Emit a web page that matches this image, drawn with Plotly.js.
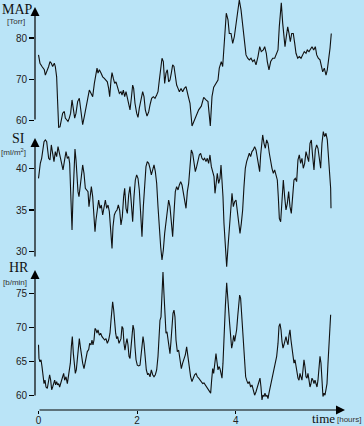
<!DOCTYPE html>
<html><head><meta charset="utf-8">
<script src="https://cdn.plot.ly/plotly-3.0.1.min.js"></script>
<style>html,body{margin:0;padding:0;background:#b9e4f8;}#chart{width:364px;height:426px;}</style>
</head><body><div id="chart"></div>
<script>
// ---- data (time in hours) ----
const mapTime=[0.000,0.030,0.071,0.118,0.139,0.172,0.206,0.233,0.260,0.287,0.321,0.341,0.368,0.389,0.409,0.436,0.463,0.490,0.524,0.544,0.571,0.598,0.625,0.652,0.680,0.707,0.734,0.761,0.794,0.828,0.849,0.875,0.896,0.930,0.963,0.997,1.031,1.065,1.099,1.133,1.166,1.187,1.207,1.234,1.268,1.302,1.335,1.369,1.396,1.423,1.444,1.471,1.491,1.518,1.545,1.572,1.606,1.640,1.673,1.694,1.721,1.748,1.775,1.802,1.829,1.856,1.883,1.910,1.930,1.957,1.991,2.018,2.045,2.079,2.113,2.140,2.167,2.201,2.235,2.262,2.295,2.329,2.363,2.397,2.424,2.451,2.478,2.505,2.532,2.559,2.586,2.613,2.640,2.667,2.694,2.721,2.748,2.775,2.802,2.830,2.857,2.891,2.924,2.958,2.992,3.039,3.073,3.114,3.181,3.249,3.302,3.351,3.398,3.438,3.485,3.519,3.554,3.606,3.641,3.667,3.708,3.736,3.769,3.809,3.844,3.870,3.905,3.939,3.972,4.006,4.041,4.073,4.108,4.142,4.174,4.209,4.243,4.276,4.310,4.345,4.377,4.412,4.452,4.487,4.519,4.560,4.588,4.621,4.641,4.675,4.710,4.751,4.791,4.824,4.858,4.884,4.905,4.925,4.953,4.980,5.000,5.026,5.055,5.081,5.108,5.136,5.168,5.197,5.223,5.258,5.290,5.325,5.359,5.391,5.426,5.452,5.487,5.521,5.548,5.582,5.615,5.643,5.675,5.710,5.736,5.765,5.797,5.832,5.858,5.886,5.913,5.939];
const mapValues=[75.9,73.9,73.1,72.3,71.0,71.9,73.1,74.3,73.9,73.1,73.9,73.1,70.6,64.2,58.4,58.5,60.2,61.8,62.2,60.6,60.2,59.8,60.6,61.8,65.0,63.0,60.6,61.8,64.6,65.4,63.4,60.6,59.0,61.0,63.0,65.0,67.4,66.6,65.8,69.0,71.5,72.7,71.5,72.3,71.5,70.6,70.2,69.8,69.4,67.8,65.8,69.8,71.6,70.2,69.0,69.4,68.2,66.6,67.0,66.2,67.4,65.8,67.0,65.4,64.2,62.6,65.4,68.6,67.8,64.2,61.8,60.8,63.0,65.4,67.0,65.8,62.6,61.1,62.1,63.8,65.4,65.8,65.4,66.2,67.0,69.8,73.1,75.1,74.3,69.0,71.5,72.3,69.4,69.8,71.5,73.5,73.1,70.6,68.6,67.8,67.0,67.8,67.0,67.8,68.2,65.8,64.2,58.7,60.6,62.6,63.5,65.6,65.0,64.6,58.7,65.8,68.1,69.0,69.8,72.7,74.3,73.1,80.3,86.0,84.4,81.1,81.1,78.7,80.3,83.6,86.4,89.2,86.8,83.6,79.5,75.9,75.1,74.7,75.1,74.3,74.7,73.5,75.5,77.9,76.7,77.1,77.9,76.3,74.3,72.3,74.3,75.1,75.1,75.9,77.1,82.7,86.8,88.5,83.6,79.5,77.9,80.3,82.7,81.1,79.1,81.1,81.1,78.7,76.3,75.1,75.5,75.1,75.9,76.7,76.3,77.1,76.7,77.5,77.9,77.1,77.9,75.9,75.1,74.7,73.1,71.8,72.7,71.0,72.3,74.7,77.5,81.1];

const siTime=[0.000,0.017,0.037,0.064,0.085,0.112,0.139,0.166,0.186,0.206,0.233,0.260,0.287,0.314,0.341,0.368,0.396,0.423,0.450,0.477,0.497,0.524,0.558,0.585,0.612,0.632,0.652,0.666,0.680,0.700,0.720,0.740,0.761,0.781,0.801,0.821,0.842,0.869,0.896,0.923,0.950,0.977,1.004,1.024,1.045,1.072,1.099,1.126,1.146,1.166,1.193,1.220,1.247,1.274,1.302,1.329,1.356,1.383,1.410,1.437,1.464,1.491,1.511,1.538,1.565,1.592,1.619,1.646,1.673,1.700,1.727,1.748,1.775,1.802,1.829,1.856,1.883,1.910,1.937,1.964,1.991,2.018,2.045,2.072,2.099,2.126,2.153,2.180,2.207,2.235,2.262,2.289,2.316,2.343,2.370,2.397,2.424,2.451,2.478,2.505,2.532,2.559,2.586,2.613,2.640,2.667,2.694,2.721,2.748,2.775,2.802,2.830,2.857,2.884,2.911,2.938,2.965,2.992,3.019,3.046,3.073,3.100,3.127,3.154,3.181,3.208,3.235,3.262,3.289,3.316,3.343,3.370,3.397,3.424,3.451,3.478,3.506,3.533,3.560,3.580,3.600,3.627,3.654,3.681,3.702,3.722,3.742,3.762,3.790,3.817,3.844,3.871,3.898,3.925,3.952,3.979,4.006,4.033,4.060,4.087,4.114,4.141,4.168,4.195,4.222,4.249,4.276,4.303,4.330,4.357,4.384,4.412,4.439,4.466,4.486,4.506,4.526,4.547,4.574,4.601,4.628,4.655,4.682,4.709,4.736,4.763,4.790,4.817,4.844,4.864,4.885,4.912,4.939,4.966,4.993,5.020,5.047,5.074,5.101,5.128,5.155,5.182,5.209,5.236,5.263,5.290,5.317,5.344,5.371,5.399,5.426,5.453,5.480,5.507,5.534,5.561,5.588,5.615,5.642,5.669,5.696,5.723,5.750,5.777,5.804,5.831,5.858,5.885,5.912,5.926,5.933];
const siValues=[38.8,39.8,40.6,41.2,42.4,43.2,43.4,43.2,42.2,41.2,41.0,42.8,41.8,40.8,42.0,41.4,42.6,41.8,41.0,40.6,39.8,40.8,42.0,41.2,41.4,40.6,37.8,34.6,32.6,36.6,41.0,42.3,41.0,38.6,37.2,36.6,38.0,39.0,40.4,39.4,37.6,37.4,37.2,35.4,36.6,37.8,36.6,34.2,32.4,33.8,35.2,36.2,35.2,35.6,34.4,35.4,36.2,35.2,35.6,34.8,32.8,30.4,33.0,34.4,34.8,35.0,35.6,35.0,33.2,34.2,36.6,37.6,35.2,34.6,36.8,37.8,35.8,33.6,36.6,38.6,39.2,38.8,37.4,34.6,31.8,35.4,38.6,40.2,40.8,40.6,40.0,39.2,39.8,40.4,39.6,38.2,35.4,32.6,30.6,29.0,30.2,32.2,33.8,34.6,36.2,35.4,33.4,31.8,34.6,37.2,37.8,37.4,38.0,38.4,38.0,37.2,36.4,35.2,37.2,38.2,40.2,42.2,41.8,40.6,39.6,40.2,41.0,41.6,41.8,41.2,41.0,41.2,40.8,41.2,40.6,41.6,40.2,39.4,39.0,37.0,38.0,39.4,38.2,38.8,40.4,39.0,36.6,33.4,30.5,28.2,30.6,33.0,34.6,37.0,35.4,36.0,36.2,35.0,33.4,32.2,33.4,35.0,37.8,40.0,40.8,41.2,41.8,41.4,42.0,42.2,42.6,42.2,41.4,40.6,39.6,41.6,43.4,44.0,43.0,42.4,43.4,43.0,41.8,40.6,40.0,39.4,39.8,39.2,38.6,36.6,34.0,33.6,36.2,38.6,36.6,35.0,35.8,37.2,35.4,34.6,36.6,38.6,38.8,38.4,41.0,41.6,40.6,41.2,40.0,40.6,42.0,41.4,40.8,43.0,43.4,41.4,39.8,42.2,42.8,42.4,41.4,40.0,43.0,44.4,43.8,44.2,43.4,40.6,38.6,37.6,35.2];

const hrTime=[0.000,0.010,0.030,0.051,0.071,0.091,0.112,0.132,0.152,0.179,0.206,0.226,0.247,0.267,0.287,0.308,0.328,0.348,0.368,0.389,0.409,0.429,0.450,0.470,0.490,0.510,0.531,0.558,0.585,0.605,0.625,0.646,0.666,0.686,0.707,0.727,0.747,0.767,0.788,0.808,0.828,0.849,0.869,0.896,0.923,0.943,0.963,0.990,1.018,1.038,1.065,1.085,1.105,1.126,1.146,1.166,1.187,1.207,1.234,1.261,1.288,1.315,1.342,1.369,1.396,1.423,1.450,1.471,1.491,1.504,1.525,1.545,1.565,1.585,1.606,1.633,1.653,1.673,1.694,1.714,1.734,1.754,1.775,1.795,1.815,1.836,1.856,1.876,1.896,1.917,1.937,1.957,1.978,2.004,2.032,2.059,2.079,2.099,2.120,2.140,2.160,2.187,2.214,2.235,2.262,2.289,2.316,2.343,2.370,2.397,2.424,2.444,2.464,2.485,2.505,2.525,2.545,2.566,2.586,2.606,2.627,2.647,2.667,2.687,2.708,2.728,2.748,2.768,2.789,2.816,2.843,2.870,2.897,2.924,2.951,2.978,3.005,3.032,3.059,3.086,3.113,3.140,3.167,3.195,3.222,3.249,3.276,3.303,3.330,3.357,3.384,3.411,3.438,3.465,3.492,3.512,3.533,3.553,3.573,3.600,3.620,3.641,3.661,3.681,3.702,3.722,3.742,3.762,3.790,3.817,3.837,3.857,3.877,3.898,3.918,3.938,3.959,3.979,3.999,4.019,4.040,4.060,4.080,4.100,4.121,4.141,4.161,4.182,4.202,4.222,4.249,4.276,4.303,4.330,4.357,4.384,4.412,4.439,4.466,4.493,4.513,4.533,4.553,4.574,4.594,4.614,4.635,4.655,4.675,4.695,4.722,4.750,4.777,4.804,4.831,4.858,4.878,4.898,4.919,4.939,4.959,4.979,5.000,5.020,5.040,5.061,5.081,5.101,5.121,5.142,5.162,5.182,5.203,5.223,5.243,5.263,5.284,5.304,5.324,5.344,5.365,5.385,5.405,5.426,5.446,5.466,5.487,5.507,5.527,5.547,5.568,5.588,5.608,5.628,5.649,5.669,5.689,5.710,5.730,5.750,5.770,5.791,5.811,5.831,5.852,5.872,5.892,5.912,5.919,5.926];
const hrValues=[67.5,65.5,65.0,65.3,64.3,62.8,61.8,62.3,61.3,61.1,62.1,63.1,62.3,60.9,61.3,62.1,62.3,61.6,62.1,61.6,61.8,61.3,61.8,62.1,62.6,63.3,62.3,62.8,61.8,62.8,63.3,64.8,67.2,68.7,66.2,64.0,63.3,63.8,65.3,67.2,68.4,67.2,65.8,64.8,64.0,64.8,65.8,66.5,66.8,67.7,67.5,68.2,67.5,68.2,69.9,69.7,69.2,69.7,68.9,69.2,68.7,68.4,68.2,68.4,67.7,68.2,69.2,71.1,73.1,73.8,72.6,70.6,69.2,68.4,68.7,67.7,68.2,68.4,70.2,69.9,67.7,66.7,67.7,68.4,67.5,65.8,65.5,66.7,68.7,70.4,69.7,67.2,65.3,64.5,64.4,64.5,66.2,68.2,68.7,67.7,65.3,63.8,63.1,63.3,62.8,63.8,63.1,62.8,63.1,63.8,65.8,68.7,71.1,71.6,75.0,78.2,75.0,71.1,69.2,69.4,68.4,67.0,66.2,68.0,70.2,72.1,72.6,71.6,68.2,66.5,66.7,65.5,64.0,64.8,65.5,66.0,67.2,65.5,64.0,62.8,62.1,62.8,63.1,63.3,62.8,62.6,62.3,62.1,61.8,61.9,61.6,61.3,61.1,60.9,60.4,62.3,64.0,63.3,64.8,66.2,65.0,63.8,64.3,64.0,63.3,62.6,64.8,69.2,73.1,76.6,75.1,72.6,70.6,68.4,67.0,67.7,68.9,68.0,68.7,69.7,71.6,73.6,74.8,74.3,72.1,69.7,66.7,64.3,62.8,62.3,61.8,62.1,61.3,61.6,60.9,60.1,60.6,61.3,62.1,62.6,61.3,59.4,60.1,59.9,60.4,59.9,60.1,59.6,60.4,61.1,61.8,62.8,63.8,64.8,65.8,67.7,70.2,70.6,69.7,68.0,67.0,67.5,68.2,68.7,68.0,67.5,68.9,69.7,68.2,66.7,65.8,64.8,65.3,64.3,63.8,62.6,62.3,63.3,62.8,62.3,63.8,65.3,64.3,62.8,62.6,63.3,62.3,61.3,61.8,62.6,62.3,61.8,62.3,61.6,61.3,62.3,64.3,65.8,64.8,61.3,59.9,60.4,60.1,60.9,61.8,64.8,68.2,71.1,70.2,71.9];

const mapTicks=[60,70,80];
const siTicks=[30,35,40];
const hrTicks=[60,65,70,75];
const timeTicks=[0,2,4];

// ---- layout geometry ----
const W=364,H=426,ML=35,MB=16,PW=W-ML,PH=H-MB;
const px2x=p=>(p-ML)/PW, py2y=p=>(PH-p)/PH;
const BG='rgb(186,228,247)';
const sans='"Liberation Sans", Arial, sans-serif';
const serif='"Liberation Serif", "Times New Roman", serif';

const line={color:'#111',width:1.1};
const traces=[
  {x:mapTime,y:mapValues,type:'scatter',mode:'lines',line:line,xaxis:'x',yaxis:'y',hoverinfo:'skip'},
  {x:siTime,y:siValues,type:'scatter',mode:'lines',line:line,xaxis:'x',yaxis:'y2',hoverinfo:'skip'},
  {x:hrTime,y:hrValues,type:'scatter',mode:'lines',line:line,xaxis:'x',yaxis:'y3',hoverinfo:'skip'}
];

function yax(dom,rng,ticks){
  return {domain:dom,range:rng,anchor:'x',tickvals:ticks,ticks:'outside',ticklen:5,tickwidth:1.2,tickcolor:'#000',
    showline:false,showgrid:false,zeroline:false,tickfont:{family:sans,size:10,color:'#222'},fixedrange:true};
}
function arrow(tx,ty,ax,ay){
  return {xref:'paper',yref:'paper',x:tx,y:ty,ax:ax,ay:ay,text:'',showarrow:true,arrowhead:2,arrowsize:1.5,arrowwidth:1.2,arrowcolor:'#000',standoff:0};
}
function label(t,px,py,font){
  return {xref:'paper',yref:'paper',x:px2x(px),y:py2y(py),text:t,showarrow:false,xanchor:'center',yanchor:'middle',font:font};
}
const layout={
  width:W,height:H,margin:{l:ML,r:0,t:0,b:MB},
  paper_bgcolor:BG,plot_bgcolor:BG,showlegend:false,
  xaxis:{range:[(ML-38.5)/49.3,(W-38.5)/49.3],anchor:'y3',tickvals:timeTicks,ticks:'outside',ticklen:3,tickwidth:1.2,tickcolor:'#000',
    ticklabelstandoff:-2,
    showline:false,showgrid:false,zeroline:false,tickfont:{family:sans,size:10,color:'#222'},fixedrange:true},
  yaxis:yax([py2y(129),1],[80-(129-38)/4.13,80+38/4.13],mapTicks),
  yaxis2:yax([py2y(269),py2y(129)],[40-(269-168.3)/8.34,40+(168.3-129)/8.34],siTicks),
  yaxis3:yax([0,py2y(269)],[75-(410-293.7)/6.81,75+(293.7-269)/6.81],hrTicks),
  annotations:[
    arrow(px2x(35),py2y(7),0,114),
    arrow(px2x(35),py2y(138),0,120),
    arrow(px2x(35),py2y(270),0,127),
    arrow(px2x(345),py2y(410),-307,0),
    label('MAP',17,9,{family:serif,size:14,color:'#111'}),
    label('[Torr]',16,21,{family:sans,size:8,color:'#333'}),
    label('SI',18.5,138,{family:serif,size:14,color:'#111'}),
    label('[ml/m<sup>2</sup>]',13.5,152,{family:sans,size:8,color:'#333'}),
    label('HR',18.5,267,{family:serif,size:14,color:'#111'}),
    label('[b/min]',14.5,282,{family:sans,size:8,color:'#333'}),
    label('time',323,418,{family:serif,size:13,color:'#111'}),
    label('[hours]',348.5,419.5,{family:sans,size:8,color:'#333'})
  ]
};
Plotly.newPlot('chart',traces,layout,{staticPlot:true,displayModeBar:false});
</script>
</body></html>
